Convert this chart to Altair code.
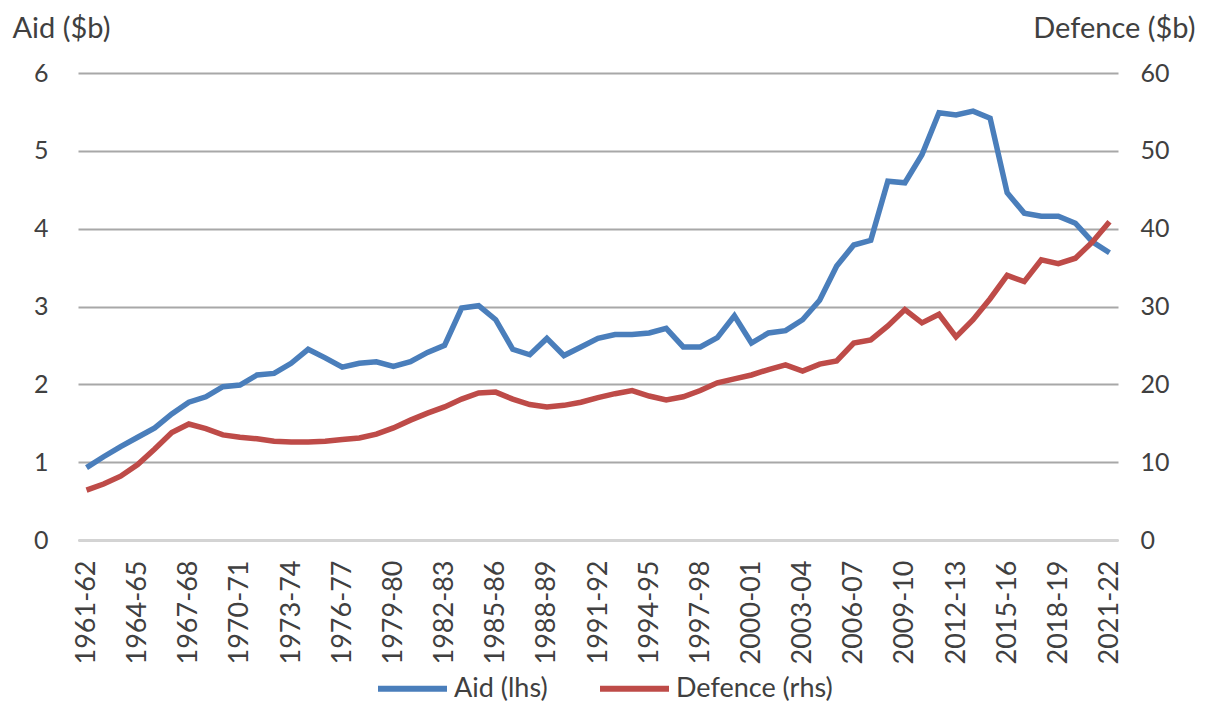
import altair as alt
import pandas as pd

years = [f"{y}-{str(y + 1)[2:]}" for y in range(1961, 2022)]

aid = [0.93, 1.07, 1.20, 1.32, 1.44, 1.62, 1.77, 1.84, 1.97, 1.99,
       2.12, 2.14, 2.27, 2.45, 2.34, 2.22, 2.27, 2.29, 2.23, 2.29,
       2.41, 2.50, 2.98, 3.01, 2.83, 2.45, 2.38, 2.59, 2.37, 2.48,
       2.59, 2.64, 2.64, 2.66, 2.72, 2.48, 2.48, 2.60, 2.88, 2.53,
       2.66, 2.69, 2.83, 3.08, 3.52, 3.79, 3.85, 4.61, 4.59, 4.95,
       5.49, 5.46, 5.51, 5.42, 4.46, 4.20, 4.16, 4.16, 4.07, 3.83,
       3.69]

defence = [6.4, 7.2, 8.2, 9.7, 11.7, 13.8, 14.9, 14.3, 13.5, 13.2,
           13.0, 12.7, 12.6, 12.6, 12.7, 12.9, 13.1, 13.6, 14.4, 15.4,
           16.3, 17.1, 18.1, 18.9, 19.0, 18.1, 17.4, 17.1, 17.3, 17.7,
           18.3, 18.8, 19.2, 18.5, 18.0, 18.4, 19.2, 20.2, 20.7, 21.2,
           21.9, 22.5, 21.7, 22.6, 23.0, 25.3, 25.7, 27.5, 29.6, 27.9,
           29.0, 26.1, 28.3, 31.0, 34.0, 33.2, 36.0, 35.5, 36.2, 38.3,
           40.9]

tick_labels = ["1961-62", "1964-65", "1967-68", "1970-71", "1973-74", "1976-77",
               "1979-80", "1982-83", "1985-86", "1988-89", "1991-92", "1994-95",
               "1997-98", "2000-01", "2003-04", "2006-07", "2009-10", "2012-13",
               "2015-16", "2018-19", "2021-22"]

series_names = ["Aid (lhs)", "Defence (rhs)"]
series_colors = ["#4A7EBB", "#BE4B48"]

aid_ticks = [0, 1, 2, 3, 4, 5, 6]
def_ticks = [0, 10, 20, 30, 40, 50, 60]

df = pd.DataFrame({"year": years, "aid": aid, "defence": defence})

FONT = "Lato"
TXT = "#404040"

x_enc = alt.X(
    "year:N",
    sort=years,
    scale=alt.Scale(type="point", padding=0.5),
    axis=alt.Axis(
        values=tick_labels,
        labelAngle=-90,
        labelAlign="right",
        labelBaseline="middle",
        labelFontSize=27,
        labelFont=FONT,
        labelColor=TXT,
        labelPadding=20,
        ticks=False,
        domain=True,
        domainColor="#d4d4d4",
        domainWidth=2,
        grid=False,
        labelOverlap=False,
        title=None,
    ),
)

color_enc = alt.Color(
    "series:N",
    scale=alt.Scale(domain=series_names, range=series_colors),
    legend=alt.Legend(
        title=None,
        orient="none",
        direction="horizontal",
        legendX=297,
        legendY=578,
        symbolType="stroke",
        symbolSize=4761,
        symbolStrokeWidth=6,
        labelFontSize=27,
        labelFont=FONT,
        labelColor=TXT,
        labelOffset=4,
        columnPadding=40,
        padding=0,
    ),
)

aid_line = alt.Chart(df).transform_calculate(series="'Aid (lhs)'").mark_line(
    strokeWidth=5.5
).encode(
    x=x_enc,
    y=alt.Y(
        "aid:Q",
        scale=alt.Scale(domain=[0, 6], nice=False),
        axis=alt.Axis(
            values=aid_ticks,
            title="Aid ($b)",
            titleAngle=0,
            titleAlign="left",
            titleBaseline="alphabetic",
            titleX=-66,
            titleY=-36,
            titleFontSize=29,
            titleFont=FONT,
            titleFontWeight="normal",
            titleColor=TXT,
            labelFontSize=25,
            labelFont=FONT,
            labelColor=TXT,
            labelPadding=30,
            ticks=False,
            domain=False,
            grid=True,
            gridColor="#a8a8a8",
            gridWidth=2,
        ),
    ),
    color=color_enc,
)

def_line = alt.Chart(df).transform_calculate(series="'Defence (rhs)'").mark_line(
    strokeWidth=5.5
).encode(
    x=x_enc,
    y=alt.Y(
        "defence:Q",
        scale=alt.Scale(domain=[0, 60], nice=False),
        axis=alt.Axis(
            orient="right",
            values=def_ticks,
            title="Defence ($b)",
            titleAngle=0,
            titleAlign="right",
            titleBaseline="alphabetic",
            titleX=77,
            titleY=-36,
            titleFontSize=29,
            titleFont=FONT,
            titleFontWeight="normal",
            titleColor=TXT,
            labelFontSize=25,
            labelFont=FONT,
            labelColor=TXT,
            labelPadding=22,
            ticks=False,
            domain=False,
            grid=False,
        ),
    ),
    color=color_enc,
)

chart = alt.layer(aid_line, def_line).resolve_scale(y="independent").properties(
    width=1040,
    height=467,
    autosize=alt.AutoSizeParams(type="none"),
    padding={"left": 78, "top": 73, "right": 87, "bottom": 176},
    background="white",
).configure_view(stroke=None)

chart.save("out.html", embed_options={"renderer": "svg", "actions": False})
